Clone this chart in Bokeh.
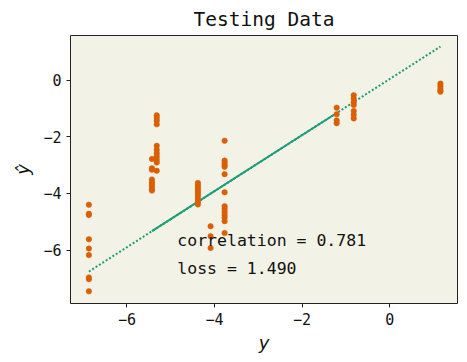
from bokeh.plotting import figure
from bokeh.models import Range1d, Label, ColumnDataSource
from bokeh.embed import file_html
from bokeh.resources import INLINE
import numpy as np

# true values (cluster x positions) and predictions
true_vals = [-6.87, -5.43, -5.32, -4.38, -4.09, -3.77, -1.21, -0.82, 1.16]
pred_vals = [
    [-4.40, -4.72, -4.76, -5.62, -5.95, -6.18, -6.97, -7.03, -7.46],
    [-2.78, -3.11, -3.16, -3.51, -3.59, -3.67, -3.75, -3.84, -3.90],
    [-1.24, -1.33, -1.43, -1.56, -2.32, -2.46, -2.58, -2.70, -2.81, -2.91, -3.20],
    [-3.63, -3.71, -3.79, -3.87, -3.95, -4.03, -4.12, -4.21, -4.30, -4.39],
    [-5.16, -5.51, -5.93],
    [-2.14, -2.84, -2.92, -3.00, -3.06, -3.32, -3.96, -4.45, -4.55, -4.66, -4.76, -4.86, -4.98, -5.40],
    [-0.97, -1.20, -1.42, -1.52],
    [-0.53, -0.65, -0.78, -0.88, -1.09, -1.22, -1.35],
    [-0.12, -0.20, -0.28, -0.36, -0.41],
]
fit_slope = 0.99
fit_intercept = 0.04
correlation = 0.781
loss = 1.490

xs, ys = [], []
for t, preds in zip(true_vals, pred_vals):
    for v in preds:
        xs.append(t)
        ys.append(v)

FONT = "DejaVu Sans Mono"
ORANGE = "#d95f02"
GREEN = "#1b9e77"

p = figure(width=467, height=362, output_backend="svg", toolbar_location=None,
           x_range=Range1d(-7.29, 1.55), y_range=Range1d(-7.89, 1.58),
           min_border_left=70, min_border_right=10, min_border_top=33, min_border_bottom=59)
p.title.text = "Testing Data"
p.title.align = "center"
p.title.text_font = FONT
p.title.text_font_size = "19.5px"
p.title.text_font_style = "normal"
p.title.text_color = "#111111"

p.background_fill_color = "#f3f2e6"
p.border_fill_color = "white"
p.outline_line_color = "#222222"
p.outline_line_width = 1
p.grid.visible = False

for ax in (p.xaxis[0], p.yaxis[0]):
    ax.axis_line_color = None
    ax.minor_tick_line_color = None
    ax.major_tick_in = 0
    ax.major_tick_out = 4
    ax.major_tick_line_color = "#222222"
    ax.major_label_text_font = FONT
    ax.major_label_text_font_size = "15px"
    ax.major_label_text_color = "#111111"
    ax.axis_label_text_font = "DejaVu Sans"
    ax.axis_label_text_font_style = "italic"
    ax.axis_label_text_font_size = "18px"
    ax.axis_label_text_color = "#111111"

p.xaxis.ticker = [-6, -4, -2, 0]
p.yaxis.ticker = [-6, -4, -2, 0]
p.xaxis.axis_label = "y"
p.yaxis.axis_label = "ŷ"
p.xaxis.axis_label_standoff = 4
p.yaxis.axis_label_standoff = 7

# fit line: dotted over full range, overlapping (appears solid) in middle
lx = np.array([min(true_vals), max(true_vals)])
p.line(lx, fit_slope * lx + fit_intercept, line_color=GREEN, line_width=2, line_dash="2 2")
mx = np.array([true_vals[1], true_vals[6]])
p.line(mx, fit_slope * mx + fit_intercept, line_color=GREEN, line_width=2)

src = ColumnDataSource(dict(x=xs, y=ys))
p.scatter("x", "y", source=src, size=5.5, fill_color=ORANGE, line_color=ORANGE, line_width=0.5)

p.add_layout(Label(x=-4.85, y=-5.68, text=f"correlation = {correlation:.3f}",
                   text_font=FONT, text_font_size="16.5px", text_baseline="middle",
                   text_color="#111111"))
p.add_layout(Label(x=-4.85, y=-6.66, text=f"loss = {loss:.3f}",
                   text_font=FONT, text_font_size="16.5px", text_baseline="middle",
                   text_color="#111111"))

open("out.html", "w").write(file_html(p, INLINE))
